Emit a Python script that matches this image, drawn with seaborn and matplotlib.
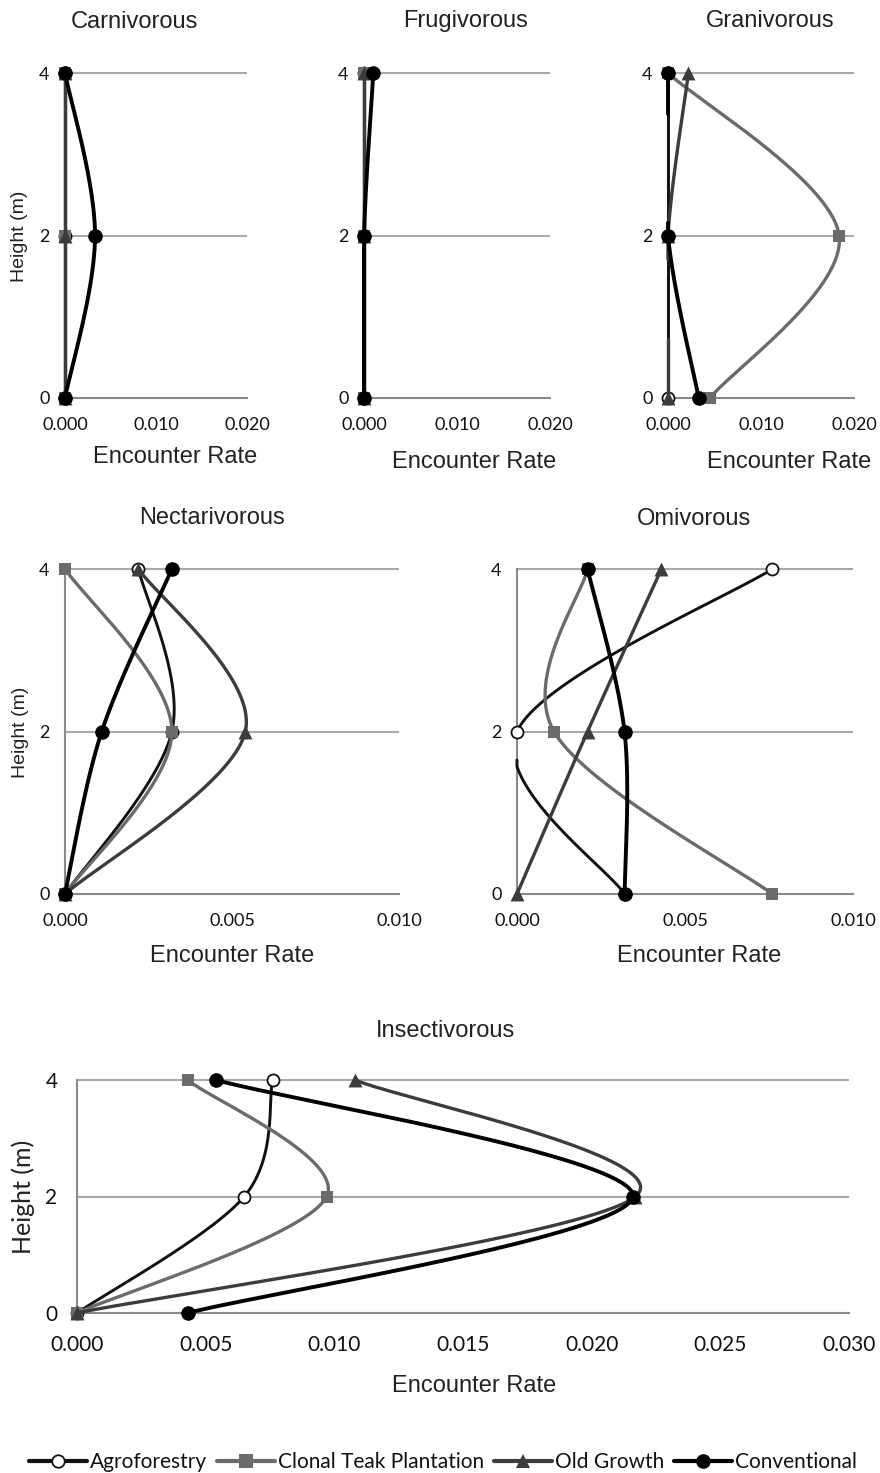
import numpy as np
import pandas as pd
import matplotlib
matplotlib.use("Agg")
import matplotlib.pyplot as plt
import seaborn as sns
from matplotlib.lines import Line2D

# ---------------- data (encounter rate at heights 4, 2, 0 m) ----------------
heights = [4, 2, 0]
series_names = ["Agroforestry", "Clonal Teak Plantation", "Old Growth", "Conventional"]

panel_titles = ["Carnivorous", "Frugivorous", "Granivorous",
                "Nectarivorous", "Omivorous", "Insectivorous"]
panel_xmax = [0.020, 0.020, 0.020, 0.010, 0.010, 0.030]
panel_xticks = [[0.0, 0.010, 0.020], [0.0, 0.010, 0.020], [0.0, 0.010, 0.020],
                [0.0, 0.005, 0.010], [0.0, 0.005, 0.010],
                [0.0, 0.005, 0.010, 0.015, 0.020, 0.025, 0.030]]

carnivorous_agro = [0.0, 0.0, 0.0]
carnivorous_clonal = [0.0, 0.0, 0.0]
carnivorous_old = [0.0, 0.0, 0.0]
carnivorous_conv = [0.0, 0.0033, 0.0]

frugivorous_agro = [0.0, 0.0, 0.0]
frugivorous_clonal = [0.0, 0.0, 0.0]
frugivorous_old = [0.0, 0.0, 0.0]
frugivorous_conv = [0.0010, 0.0, 0.0]

granivorous_agro = [0.0, 0.0, 0.0]
granivorous_clonal = [0.0, 0.0184, 0.0045]
granivorous_old = [0.0022, 0.0, 0.0]
granivorous_conv = [0.0, 0.0, 0.0033]

nectarivorous_agro = [0.0022, 0.0032, 0.0]
nectarivorous_clonal = [0.0, 0.0032, 0.0]
nectarivorous_old = [0.0022, 0.0054, 0.0]
nectarivorous_conv = [0.0032, 0.0011, 0.0]

omivorous_agro = [0.0076, 0.0, 0.0032]
omivorous_clonal = [0.0021, 0.0011, 0.0076]
omivorous_old = [0.0043, 0.0021, 0.0]
omivorous_conv = [0.0021, 0.0032, 0.0032]

insectivorous_agro = [0.0076, 0.0065, 0.0]
insectivorous_clonal = [0.0043, 0.0097, 0.0]
insectivorous_old = [0.0108, 0.0217, 0.0]
insectivorous_conv = [0.0054, 0.0216, 0.0043]

panel_values = [
    [carnivorous_agro, carnivorous_clonal, carnivorous_old, carnivorous_conv],
    [frugivorous_agro, frugivorous_clonal, frugivorous_old, frugivorous_conv],
    [granivorous_agro, granivorous_clonal, granivorous_old, granivorous_conv],
    [nectarivorous_agro, nectarivorous_clonal, nectarivorous_old, nectarivorous_conv],
    [omivorous_agro, omivorous_clonal, omivorous_old, omivorous_conv],
    [insectivorous_agro, insectivorous_clonal, insectivorous_old, insectivorous_conv],
]

# ---------------- styles ----------------
styles = [
    dict(color="#111111", lw=2.1, marker="o", s=75, fc="white", ec="#111111", mlw=1.3, lms=9),
    dict(color="#6b6b6b", lw=2.4, marker="s", s=85, fc="#6b6b6b", ec="#6b6b6b", mlw=0.0, lms=10),
    dict(color="#3c3c3c", lw=2.4, marker="^", s=100, fc="#3c3c3c", ec="#3c3c3c", mlw=0.0, lms=10.5),
    dict(color="#000000", lw=2.8, marker="o", s=110, fc="#000000", ec="#000000", mlw=0.0, lms=10.5),
]

W, H = 880, 1473
# axes boxes in pixels: left, top, right, bottom
boxes = [(65, 73, 247, 398), (364, 73, 550, 398), (668, 73, 854, 398),
         (65, 569, 399, 894), (517, 569, 853, 894), (77, 1080, 849, 1313)]
title_pos = [(134, 28), (466, 27), (770, 27), (212, 524), (694, 525), (445, 1037)]
xlabel_pos = [(175, 463), (474, 468), (789, 468), (232, 962), (699, 962), (474, 1392)]
ylabel_pos = [(20, 236), None, None, (20, 732), None, (23, 1197)]

sns.set_style("white")
plt.rcParams["font.family"] = ["Liberation Sans", "DejaVu Sans"]

fig = plt.figure(figsize=(W / 100, H / 100), dpi=100)


def smooth_curve(xs, ys, n=80):
    pts = np.column_stack([xs, ys]).astype(float)
    out = []
    for i in range(len(pts) - 1):
        p0 = pts[i - 1] if i > 0 else pts[i]
        p1 = pts[i]
        p2 = pts[i + 1]
        p3 = pts[i + 2] if i + 2 < len(pts) else pts[i + 1]
        c1 = p1 + (p2 - p0) / 6.0
        c2 = p2 - (p3 - p1) / 6.0
        t = np.linspace(0, 1, n)[:, None]
        seg = ((1 - t) ** 3) * p1 + 3 * ((1 - t) ** 2) * t * c1 + 3 * (1 - t) * t ** 2 * c2 + t ** 3 * p2
        if i > 0:
            seg = seg[1:]
        out.append(seg)
    return np.vstack(out)


def curve_frame(xs, ys, xmax):
    c = smooth_curve(xs, ys)
    x, y = c[:, 0], c[:, 1]
    tol = 0.006 * xmax
    x = np.where((x < 0) & (x > -tol), 0.0, x)
    valid = x >= 0
    seg_id = np.cumsum(np.r_[True, valid[1:] != valid[:-1]])
    df = pd.DataFrame({"x": x, "y": y, "seg": seg_id})
    return df[valid]


def to_axes(box, px, py):
    l, t, r, b = box
    return (px - l) / (r - l), (b - py) / (b - t)


for k, (title, xmax, xt, vals, box) in enumerate(zip(panel_titles, panel_xmax, panel_xticks,
                                                      panel_values, boxes)):
    l, t, r, b = box
    ax = fig.add_axes([l / W, 1 - b / H, (r - l) / W, (b - t) / H])
    ax.set_xlim(0, xmax)
    ax.set_ylim(0, 4)
    ax.set_facecolor("none")
    for sp in ["top", "right"]:
        ax.spines[sp].set_visible(False)
    for sp in ["left", "bottom"]:
        ax.spines[sp].set_color("#8a8a8a")
        ax.spines[sp].set_linewidth(1.5)
    ax.hlines([2, 4], 0, xmax, colors="#a9a9a9", linewidth=1.5, clip_on=False, zorder=1)

    for j, (name, xv, st) in enumerate(zip(series_names, vals, styles)):
        df = curve_frame(xv, heights, xmax)
        if len(df):
            sns.lineplot(data=df, x="x", y="y", units="seg", estimator=None, sort=False,
                         color=st["color"], linewidth=st["lw"], ax=ax, legend=False,
                         clip_on=False, zorder=3 + 2 * j)
        sns.scatterplot(x=xv, y=heights, marker=st["marker"], s=st["s"], color=st["fc"],
                        edgecolor=st["ec"], linewidth=st["mlw"], ax=ax, legend=False,
                        clip_on=False, zorder=4 + 2 * j)

    big = (k == 5)
    ax.set_xticks(xt)
    ax.set_xticklabels([f"{v:.3f}" for v in xt])
    ax.set_yticks([0, 2, 4])
    ax.set_yticklabels(["0", "2", "4"])
    tick_fs = 15 if big else 13
    ax.tick_params(axis="both", length=0, labelsize=tick_fs, labelcolor="#111111")
    ax.tick_params(axis="x", pad=16 if big else 13.5)
    ax.tick_params(axis="y", pad=14 if big else 11)
    for lab in ax.get_xticklabels() + ax.get_yticklabels():
        lab.set_fontfamily(["Lato", "DejaVu Sans"])

    tx, ty = to_axes(box, *title_pos[k])
    ax.set_title(title, x=tx, y=ty, va="baseline", ha="center", pad=0,
                 fontsize=17, color="#222222")
    lx, ly = to_axes(box, *xlabel_pos[k])
    ax.set_xlabel("Encounter Rate", fontsize=17, color="#222222", va="baseline")
    ax.xaxis.set_label_coords(lx, ly)
    if ylabel_pos[k] is not None:
        yx, yy = to_axes(box, *ylabel_pos[k])
        if big:
            ax.set_ylabel("Height (m)", fontsize=18, color="#222222", va="center",
                          family=["Lato", "DejaVu Sans"])
        else:
            ax.set_ylabel("Height (m)", fontsize=14, color="#222222", va="center")
        ax.yaxis.set_label_coords(yx, yy)
    else:
        ax.set_ylabel("")

handles = [Line2D([0], [0], color=st["color"], lw=3.0, marker=st["marker"],
                  markersize=st["lms"], markerfacecolor=st["fc"], markeredgecolor=st["ec"],
                  markeredgewidth=max(st["mlw"], 0.01))
           for st in styles]
fig.legend(handles, series_names, loc="center", bbox_to_anchor=(443 / W, 1 - 1462 / H),
           ncol=4, frameon=False, handlelength=2.75, handletextpad=0.15, columnspacing=0.5,
           prop={"family": ["Lato", "DejaVu Sans"], "size": 15}, labelcolor="#111111")

fig.savefig("out.png", dpi=100)
